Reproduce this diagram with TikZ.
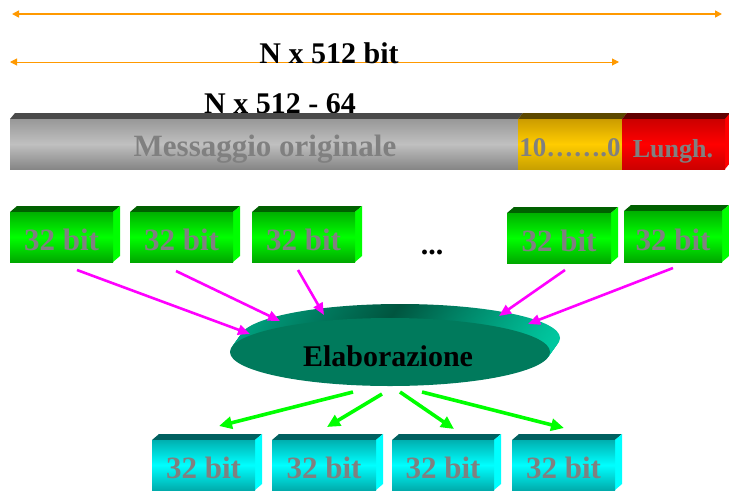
\documentclass[tikz,border=0pt]{standalone}
\usepackage{fontspec}
\setmainfont{Liberation Serif}
\usetikzlibrary{arrows.meta,shapes.geometric}
\definecolor{orng}{HTML}{FF9900}
\definecolor{txtgray}{HTML}{808080}
\definecolor{magarr}{HTML}{FF00FF}
\definecolor{grnarr}{HTML}{00FF00}
\definecolor{elfront}{HTML}{007A5C}
\definecolor{grtop}{HTML}{4A4A4A}
\definecolor{gdtop}{HTML}{5C4800}
\definecolor{rdtop}{HTML}{600000}
\definecolor{gntop}{HTML}{006000}
\definecolor{cytop}{HTML}{006060}
\definecolor{HTML98}{HTML}{989898}
\definecolor{HTML84}{HTML}{868686}
\definecolor{HTMLC0}{HTML}{C0C0C0}
\definecolor{gdA}{HTML}{CC9C00}
\definecolor{gdB}{HTML}{FFCC00}
\definecolor{gdC}{HTML}{C8A000}
\definecolor{rdA}{HTML}{CC0000}
\definecolor{rdB}{HTML}{FF0000}
\definecolor{gnA}{HTML}{00B000}
\definecolor{gnB}{HTML}{00FF00}
\definecolor{gnC}{HTML}{00A800}
\definecolor{cyA}{HTML}{00B0B0}
\definecolor{cyB}{HTML}{00FFFF}
\definecolor{cyC}{HTML}{00ACAC}
\definecolor{elL}{HTML}{00A482}
\definecolor{elM}{HTML}{00553F}
\definecolor{elR}{HTML}{00C8A0}
\tikzset{
  lblk/.style={font=\fontsize{30}{30}\selectfont\bfseries, text=black, inner sep=0pt, anchor=base},
  lbg/.style={font=\fontsize{30}{30}\selectfont\bfseries, text=txtgray, inner sep=0pt, anchor=base},
  grayface/.style={top color=HTML98, bottom color=HTML84, middle color=HTMLC0},
  magline/.style={magarr, line width=2.6pt, -{Triangle[length=12pt,width=10pt]}},
  grnline/.style={grnarr, line width=3.6pt, -{Triangle[length=13pt,width=12pt]}},
  orline/.style={orng, {Triangle[length=7pt,width=7pt]}-{Triangle[length=7pt,width=7pt]}},
  gnface/.style={top color=gnA, bottom color=gnC, middle color=gnB},
  cyface/.style={top color=cyA, bottom color=cyC, middle color=cyB},
}
% #1 name, #2 x1, #3 y1 (front top), #4 x2, #5 y2 (front bottom), #6 top colour, #7 front style, #8 side colour, #9 text
\newcommand\mycube[9]{%
  \fill[#6] (#2,#3) -- ({#2+7},{#3-6}) -- ({#4+7},{#3-6}) -- (#4,#3) -- cycle;
  \fill[#8] (#4,#3) -- ({#4+7},{#3-6}) -- ({#4+7},{#5-6}) -- (#4,#5) -- cycle;
  \path[#7] (#2,#3) rectangle (#4,#5);
  \node[lbg, font=\fontsize{31}{31}\selectfont\bfseries] (#1) at ({(#2+#4)/2},{#5-12}) {#9};
}
\begin{document}
\begin{tikzpicture}[x=1pt,y=-1pt]
\useasboundingbox (0,0) rectangle (729,491);
% dimension arrows
\coordinate (a1l) at (12,14);
\coordinate (a1r) at (722,14);
\draw[orline, line width=1.6pt] (a1l) -- (a1r);
\coordinate (a2l) at (10,62);
\coordinate (a2r) at (619,62);
\draw[orline, line width=1pt] (a2l) -- (a2r);
\node[lblk] (t1) at (329,63) {N x 512 bit};
\node[lblk] (t2) at (280,113) {N x 512 - 64};
% message bar
\fill[grtop] (10,119) -- (15,113) -- (523,113) -- (518,119) -- cycle;
\fill[gdtop] (518,119) -- (523,113) -- (627,113) -- (622,119) -- cycle;
\fill[rdtop] (622,119) -- (627,113) -- (731,113) -- (726,119) -- cycle;
\fill[rdB] (725,119) -- (730,113) -- (730,163) -- (725,169) -- cycle;
\path[grayface] (10,119) rectangle (518,169);
\path[top color=gdA, bottom color=gdC, middle color=gdB] (518,119) rectangle (622,169);
\path[top color=rdA, bottom color=rdA, middle color=rdB] (622,119) rectangle (725,169);
\node[lbg, font=\fontsize{31}{31}\selectfont\bfseries] (msg) at (265,156) {Messaggio originale};
\node[lbg, font=\fontsize{27}{27}\selectfont\bfseries] (pad) at (570,156) {10…….0};
\node[lbg, font=\fontsize{26}{26}\selectfont\bfseries] (len) at (673,157) {Lungh.};
% 32-bit words
\mycube{g1}{10}{212}{113}{262}{gntop}{gnface}{gnB}{32 bit}
\mycube{g2}{130}{212}{233}{262}{gntop}{gnface}{gnB}{32 bit}
\mycube{g3}{252}{212}{355}{262}{gntop}{gnface}{gnB}{32 bit}
\mycube{g4}{507}{213}{611}{263}{gntop}{gnface}{gnB}{32 bit}
\mycube{g5}{624}{211}{722}{262}{gntop}{gnface}{gnB}{32 bit}
\node[lblk] (dots) at (432,254) {...};
% processing ellipse
\foreach \i in {12,11,...,1}{
  \shade[left color=elL, right color=elR, middle color=elM]
    ({390+\i*10/12},{352-\i*14/12}) ellipse [x radius=160pt, y radius=34pt];
}
\node[ellipse, fill=elfront, minimum width=320pt, minimum height=68pt, inner sep=0pt] (ell) at (390,352) {};
\node[lblk] (elab) at (388,366) {Elaborazione};
% input arrows
\coordinate (m1s) at (77,270);  \coordinate (m1e) at (250,334);
\coordinate (m2s) at (176,271); \coordinate (m2e) at (280,321);
\coordinate (m3s) at (298,270); \coordinate (m3e) at (324,315);
\coordinate (m4s) at (565,270); \coordinate (m4e) at (499,316);
\coordinate (m5s) at (673,268); \coordinate (m5e) at (528,324);
\draw[magline] (m1s) -- (m1e);
\draw[magline] (m2s) -- (m2e);
\draw[magline] (m3s) -- (m3e);
\draw[magline] (m4s) -- (m4e);
\draw[magline] (m5s) -- (m5e);
% output arrows
\coordinate (o1s) at (353,392); \coordinate (o1e) at (219,426);
\coordinate (o2s) at (382,394); \coordinate (o2e) at (327,427);
\coordinate (o3s) at (400,392); \coordinate (o3e) at (454,429);
\coordinate (o4s) at (422,392); \coordinate (o4e) at (564,428);
\draw[grnline] (o1s) -- (o1e);
\draw[grnline] (o2s) -- (o2e);
\draw[grnline] (o3s) -- (o3e);
\draw[grnline] (o4s) -- (o4e);
% output words
\mycube{c1}{152}{440}{255}{490}{cytop}{cyface}{cyB}{32 bit}
\mycube{c2}{272}{440}{376}{490}{cytop}{cyface}{cyB}{32 bit}
\mycube{c3}{392}{440}{494}{490}{cytop}{cyface}{cyB}{32 bit}
\mycube{c4}{512}{440}{615}{490}{cytop}{cyface}{cyB}{32 bit}
\end{tikzpicture}
\end{document}
